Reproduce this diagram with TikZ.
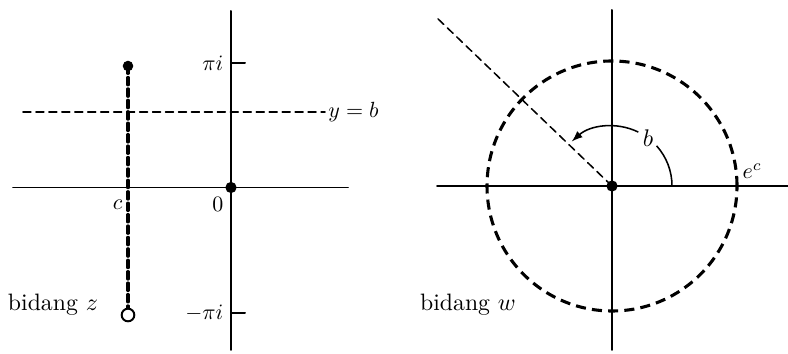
\documentclass[tikz,border=0pt]{standalone}
\usepackage{tkz-euclide}
\usetikzlibrary{arrows,calc}
\tikzset{thindash/.style={line width=0.7pt,dash pattern=on 3.6pt off 2.3pt},
  thickdash/.style={line width=1.4pt,dash pattern=on 3.4pt off 1.8pt},
  circdash/.style={line width=1.4pt,dash pattern=on 4.6pt off 2.8pt}}

\begin{document}
\begin{tikzpicture}[scale=1.6,font=\fontsize{10.8}{13}\selectfont]
\useasboundingbox (0,0) rectangle (7.88,3.53);
\tkzSetUpLine[line width=0.9pt,color=black]

% bidang z
\tkzDefPoints{0.13/1.655/Lz,3.48/1.655/Rz,2.31/3.42/Tz,2.31/0.03/Bz,2.31/1.655/O}
\tkzDefPoints{2.31/2.90/Pi,2.45/2.90/Pt,2.31/0.40/Mi,2.45/0.40/Mt}
\tkzDefPoints{0.23/2.41/Hl,3.25/2.41/Hr,1.28/2.87/Ct,1.28/0.38/Cb,1.28/1.655/C}

% bidang w
\tkzDefPoints{4.37/1.67/Lw,7.88/1.67/Rw,6.12/3.43/Tw,6.12/0.03/Bw,6.12/1.67/W}
\tkzDefPoints{4.36/3.36/K,7.37/1.67/E}

\tkzDrawSegments(Lz,Rz Tz,Bz Pi,Pt Mi,Mt Lw,Rw Tw,Bw)
\tkzDrawSegments[thindash](Hl,Hr W,K)
\tkzDrawSegments[thickdash](Ct,Cb)
\draw[circdash] (W) circle (1.25);

\draw[line width=0.7pt] (W) ++(0:0.6) arc (0:42:0.6);
\draw[line width=0.7pt,-latex] (W) ++(64:0.6) arc (64:132:0.6);

\fill (O) circle (1.6pt);
\fill (W) circle (1.6pt);
\fill (Ct) circle (1.5pt);
\draw[line width=0.9pt,fill=white] (Cb) circle (1.8pt);

\tkzLabelPoint[left](Pi){$\pi i$}
\tkzLabelPoint[left](Mi){$-\pi i$}
\tkzLabelPoint[right,xshift=-2pt](Hr){$y = b$}
\tkzLabelPoint[below left,xshift=1pt,yshift=-2pt](C){$c$}
\tkzLabelPoint[below left,yshift=-1pt](O){$0$}
\tkzLabelPoint[above right,xshift=-1pt](E){$e^c$}
\node at ([shift={(53:0.6)}]W) {$b$};
\node at (0.53,0.48) {bidang $z$};
\node at (4.68,0.48) {bidang $w$};

\end{tikzpicture}
\end{document}
